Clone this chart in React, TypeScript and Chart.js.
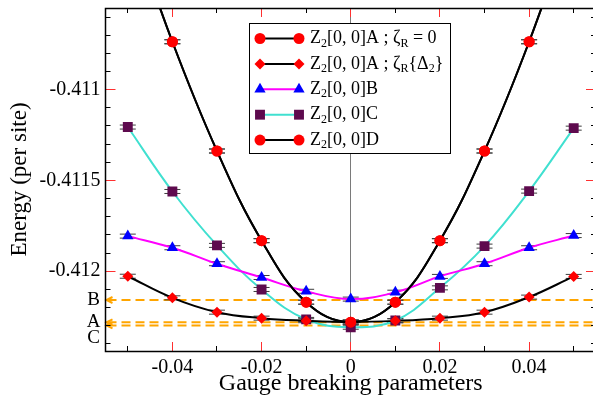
import React, { useEffect, useRef } from 'react';
import { Chart, registerables } from 'chart.js';

Chart.register(...registerables);

const SERIF = '"Liberation Serif", "DejaVu Serif", serif';

// ---------- data ----------
const xValues = [-0.05, -0.04, -0.03, -0.02, -0.01, 0, 0.01, 0.02, 0.03, 0.04, 0.05];
const seriesA0 = [-0.41004, -0.410736, -0.411338, -0.411832, -0.412171, -0.412281, -0.412171, -0.411832, -0.411338, -0.410736, -0.41004];
const seriesADelta = [-0.412028, -0.412147, -0.412226, -0.412259, -0.412273, -0.41228, -0.412274, -0.412259, -0.412226, -0.412143, -0.412029];
const seriesB = [-0.411807, -0.411871, -0.411959, -0.412035, -0.412111, -0.412154, -0.412116, -0.412029, -0.411959, -0.411871, -0.411804];
const seriesC = [-0.411206, -0.411561, -0.411858, -0.412101, -0.412266, -0.412309, -0.412272, -0.412092, -0.411862, -0.411559, -0.411212];
const seriesD = [-0.41004, -0.410736, -0.411338, -0.411832, -0.412171, -0.412281, -0.412171, -0.411832, -0.411338, -0.410736, -0.41004];

const levelNames = ['B', 'A', 'C'];
const levelValues = [-0.412159, -0.412282, -0.412299];

const xRange = [-0.055, 0.055];
const yRange = [-0.41244, -0.41055];
const xTickValues = [-0.04, -0.02, 0, 0.02, 0.04];
const xTickLabels = ['-0.04', '-0.02', '0', '0.02', '0.04'];
const xMinorTicks = [-0.05, -0.03, -0.01, 0.01, 0.03, 0.05];
const yTickValues = [-0.412, -0.4115, -0.411];
const yTickLabels = ['-0.412', '-0.4115', '-0.411'];
const yMinorTicks = [-0.4124, -0.4123, -0.4122, -0.4121, -0.4119, -0.4118, -0.4117, -0.4116, -0.4114, -0.4113, -0.4112, -0.4111, -0.4109, -0.4108, -0.4107, -0.4106];

// legend text: [text, isSubscript]
const legendTexts: [string, boolean][][] = [
  [['Z', false], ['2', true], ['[0, 0]A ; ζ', false], ['R', true], [' = 0', false]],
  [['Z', false], ['2', true], ['[0, 0]A ; ζ', false], ['R', true], ['{Δ', false], ['2', true], ['}', false]],
  [['Z', false], ['2', true], ['[0, 0]B', false]],
  [['Z', false], ['2', true], ['[0, 0]C', false]],
  [['Z', false], ['2', true], ['[0, 0]D', false]],
];

const xTitle = 'Gauge breaking parameters';
const yTitle = 'Energy (per site)';

// ---------- drawing helpers ----------
function drawMarker(ctx: CanvasRenderingContext2D, style: string, x: number, y: number, r: number, color: string) {
  ctx.save();
  ctx.fillStyle = color;
  ctx.beginPath();
  if (style === 'circle') {
    ctx.arc(x, y, r, 0, Math.PI * 2);
  } else if (style === 'rectRot') {
    ctx.moveTo(x - r, y);
    ctx.lineTo(x, y - r);
    ctx.lineTo(x + r, y);
    ctx.lineTo(x, y + r);
    ctx.closePath();
  } else if (style === 'triangle') {
    const a = (Math.PI * 2) / 3;
    ctx.moveTo(x, y - r);
    ctx.lineTo(x + Math.sin(a) * r, y - Math.cos(a) * r);
    ctx.lineTo(x + Math.sin(2 * a) * r, y - Math.cos(2 * a) * r);
    ctx.closePath();
  } else {
    const s = Math.SQRT1_2 * r;
    ctx.rect(x - s, y - s, 2 * s, 2 * s);
  }
  ctx.fill();
  ctx.restore();
}

function seg(ctx: CanvasRenderingContext2D, x1: number, y1: number, x2: number, y2: number) {
  ctx.beginPath();
  ctx.moveTo(x1, y1);
  ctx.lineTo(x2, y2);
  ctx.stroke();
}

const decorPlugin = {
  id: 'decor',
  beforeDatasetsDraw(chart: any) {
    const { ctx, chartArea: a, scales } = chart;
    const xs = scales.x;
    const ys = scales.y;
    ctx.save();
    // zero line
    const x0 = Math.floor(xs.getPixelForValue(0)) + 0.5;
    ctx.strokeStyle = '#7a7a7a';
    ctx.lineWidth = 1;
    seg(ctx, x0, a.top, x0, a.bottom);

    // level lines
    ctx.strokeStyle = '#FFA500';
    ctx.lineWidth = 2;
    ctx.setLineDash([9, 5]);
    levelValues.forEach((v) => {
      const py = ys.getPixelForValue(v);
      seg(ctx, a.left + 2, py, a.right, py);
    });
    ctx.setLineDash([]);
    levelValues.forEach((v) => {
      const py = ys.getPixelForValue(v);
      ctx.beginPath();
      ctx.moveTo(a.left + 7, py - 3);
      ctx.lineTo(a.left + 1, py);
      ctx.lineTo(a.left + 7, py + 3);
      ctx.stroke();
    });

    // error bar caps
    ctx.strokeStyle = '#3c3c3c';
    ctx.lineWidth = 1;
    chart.data.datasets.forEach((_: any, i: number) => {
      const meta = chart.getDatasetMeta(i);
      meta.data.forEach((pt: any) => {
        if (pt.y < a.top || pt.y > a.bottom) return;
        const w = 8;
        seg(ctx, pt.x - w, pt.y - 2, pt.x + w, pt.y - 2);
        seg(ctx, pt.x - w, pt.y + 2, pt.x + w, pt.y + 2);
      });
    });
    ctx.restore();
  },
  afterDatasetsDraw(chart: any) {
    const { ctx, chartArea: a, scales } = chart;
    const xs = scales.x;
    const ys = scales.y;
    ctx.save();
    // ticks
    ctx.lineWidth = 1;
    const majorColor = '#ff3030';
    xTickValues.forEach((v) => {
      const px = Math.floor(xs.getPixelForValue(v)) + 0.5;
      ctx.strokeStyle = majorColor;
      seg(ctx, px, a.bottom, px, a.bottom - 9);
      seg(ctx, px, a.top, px, a.top + 9);
    });
    xMinorTicks.forEach((v) => {
      const px = Math.floor(xs.getPixelForValue(v)) + 0.5;
      ctx.strokeStyle = '#000';
      seg(ctx, px, a.bottom, px, a.bottom - 5);
      seg(ctx, px, a.top, px, a.top + 5);
    });
    yTickValues.forEach((v) => {
      const py = Math.floor(ys.getPixelForValue(v)) + 0.5;
      ctx.strokeStyle = majorColor;
      seg(ctx, a.left, py, a.left + 10, py);
      seg(ctx, a.right, py, a.right - 10, py);
    });
    yMinorTicks.forEach((v) => {
      const py = Math.floor(ys.getPixelForValue(v)) + 0.5;
      ctx.strokeStyle = '#000';
      seg(ctx, a.left, py, a.left + 5, py);
      seg(ctx, a.right, py, a.right - 5, py);
    });
    // frame
    ctx.strokeStyle = '#000';
    ctx.lineWidth = 1.5;
    const l = Math.floor(a.left) + 0.5;
    const t = Math.floor(a.top) + 0.5;
    const b = Math.floor(a.bottom) + 0.5;
    ctx.strokeRect(l, t, a.right - l, b - t);

    // level labels
    ctx.fillStyle = '#000';
    ctx.font = `19px ${SERIF}`;
    ctx.textAlign = 'center';
    ctx.textBaseline = 'middle';
    let prev = -1000;
    levelValues.forEach((v, i) => {
      let py = ys.getPixelForValue(v);
      if (py - prev < 14) py = prev + 16;
      ctx.fillText(levelNames[i], a.left - 12, py);
      prev = py;
    });

    // legend
    const box = { l: 249.5, t: 23.5, r: 450.5, b: 153.5 };
    ctx.fillStyle = '#fff';
    ctx.fillRect(box.l, box.t, box.r - box.l, box.b - box.t);
    ctx.strokeStyle = '#000';
    ctx.lineWidth = 1;
    ctx.strokeRect(box.l, box.t, box.r - box.l, box.b - box.t);
    ctx.textAlign = 'left';
    legendTexts.forEach((parts, i) => {
      const ds = chart.data.datasets[i];
      const ry = 38.5 + i * 25.4;
      ctx.strokeStyle = ds.borderColor;
      ctx.lineWidth = 2;
      seg(ctx, 260, ry, 299, ry);
      drawMarker(ctx, ds.pointStyle, 260, ry, ds.pointRadius, ds.pointBackgroundColor);
      drawMarker(ctx, ds.pointStyle, 299, ry, ds.pointRadius, ds.pointBackgroundColor);
      let tx = 310;
      ctx.fillStyle = '#000';
      parts.forEach(([txt, sub]) => {
        ctx.font = sub ? `12px ${SERIF}` : `18px ${SERIF}`;
        ctx.fillText(txt, tx, sub ? ry + 5 : ry);
        tx += ctx.measureText(txt).width;
      });
    });
    ctx.restore();
  },
};

function makeDataset(label: string, values: number[], style: string, r: number, markerColor: string, lineColor: string) {
  return {
    label,
    data: xValues.map((x, i) => ({ x, y: values[i] })),
    showLine: true,
    borderColor: lineColor,
    borderWidth: 2,
    pointStyle: style,
    pointRadius: r,
    pointBackgroundColor: markerColor,
    pointBorderColor: markerColor,
    pointBorderWidth: 0,
    tension: 0.4,
    fill: false,
  };
}

function zeroPadding(s: any) {
  s.paddingTop = 0;
  s.paddingBottom = 0;
  s.paddingLeft = 0;
  s.paddingRight = 0;
}

export default function App() {
  const ref = useRef<HTMLCanvasElement | null>(null);
  useEffect(() => {
    if (!ref.current) return;
    const chart = new Chart(ref.current, {
      type: 'line',
      data: {
        datasets: [
          makeDataset('A zeta=0', seriesA0, 'circle', 5.5, '#FF0000', '#000000'),
          makeDataset('A zeta Delta2', seriesADelta, 'rectRot', 5.5, '#FF0000', '#000000'),
          makeDataset('B', seriesB, 'triangle', 6.5, '#0000FF', '#FF00FF'),
          makeDataset('C', seriesC, 'rect', 7, '#5E0A4E', '#40E0D0'),
          makeDataset('D', seriesD, 'circle', 5.5, '#FF0000', '#000000'),
        ] as any,
      },
      options: {
        animation: false,
        responsive: false,
        layout: { autoPadding: false, padding: { top: 8, right: 2, left: 0, bottom: 0 } },
        plugins: { legend: { display: false }, tooltip: { enabled: false } },
        scales: {
          x: {
            type: 'linear',
            min: xRange[0],
            max: xRange[1],
            grid: { display: false, drawTicks: false },
            border: { display: false },
            afterBuildTicks: (s: any) => {
              s.ticks = xTickValues.map((v) => ({ value: v }));
            },
            afterFit: (s: any) => {
              s.height = 47;
              zeroPadding(s);
            },
            ticks: {
              autoSkip: false,
              maxRotation: 0,
              padding: 5,
              color: '#000',
              font: { family: SERIF, size: 20 },
              callback: (_v: any, i: number) => xTickLabels[i],
            },
            title: {
              display: true,
              text: xTitle,
              color: '#000',
              font: { family: SERIF, size: 24 },
              padding: { top: 0, bottom: 0 },
            },
          },
          y: {
            type: 'linear',
            min: yRange[0],
            max: yRange[1],
            grid: { display: false, drawTicks: false },
            border: { display: false },
            afterBuildTicks: (s: any) => {
              s.ticks = yTickValues.map((v) => ({ value: v }));
            },
            afterFit: (s: any) => {
              s.width = 105.5;
              zeroPadding(s);
            },
            ticks: {
              autoSkip: false,
              padding: 5,
              color: '#000',
              font: { family: SERIF, size: 20 },
              callback: (_v: any, i: number) => yTickLabels[i],
            },
            title: {
              display: true,
              text: yTitle,
              color: '#000',
              font: { family: SERIF, size: 23 },
              padding: { top: 6, bottom: 0 },
            },
          },
        },
      } as any,
      plugins: [decorPlugin],
    });
    return () => chart.destroy();
  }, []);

  return (
    <div style={{ position: 'absolute', left: 0, top: 0, width: 593, height: 398, overflow: 'hidden', background: '#fff' }}>
      <canvas ref={ref} width={598} height={398} style={{ display: 'block' }} />
    </div>
  );
}
